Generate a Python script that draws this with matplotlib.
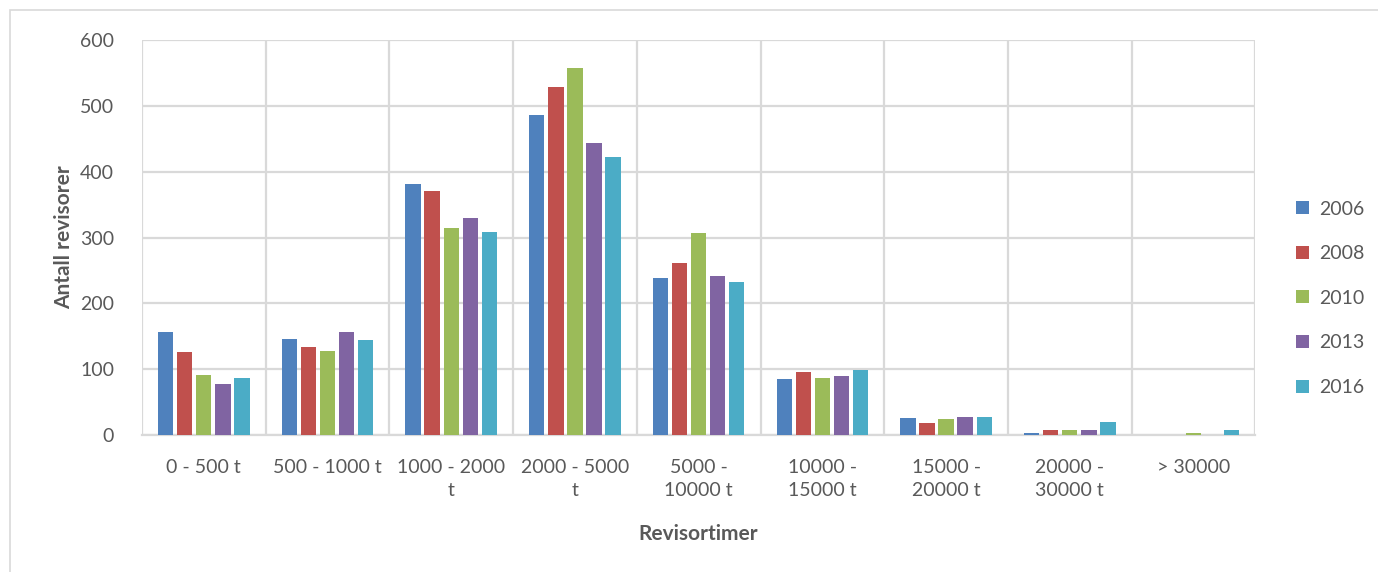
import matplotlib.pyplot as plt
from matplotlib.patches import Rectangle
import numpy as np

categories = ['0 - 500 t', '500 - 1000 t', '1000 - 2000\nt', '2000 - 5000\nt',
              '5000 -\n10000 t', '10000 -\n15000 t', '15000 -\n20000 t',
              '20000 -\n30000 t', '> 30000']
years = ['2006', '2008', '2010', '2013', '2016']
v2006 = [157, 146, 381, 486, 239, 85, 26, 3, 0]
v2008 = [126, 134, 371, 529, 262, 95, 18, 7, 0]
v2010 = [91, 128, 315, 557, 307, 87, 24, 7, 3]
v2013 = [78, 157, 330, 444, 241, 89, 28, 7, 0]
v2016 = [86, 144, 309, 422, 232, 98, 28, 20, 7]
colors = ['#4F81BD', '#C0504D', '#9BBB59', '#8064A2', '#4BACC6']

series = [v2006, v2008, v2010, v2013, v2016]
txt = '#595959'
grid_col = '#D9D9D9'

plt.rcParams['font.family'] = ['Lato', 'DejaVu Sans']

fig = plt.figure(figsize=(13.78, 5.72), dpi=100)
ax = fig.add_axes([0.103, 0.2395, 0.808, 0.6905])

x = np.arange(len(categories))
step = 0.154
width = 0.124
for i, (vals, yr, col) in enumerate(zip(series, years, colors)):
    ax.bar(x + (i - 2) * step, vals, width=width, color=col,
           edgecolor='none', label=yr, zorder=3)

ax.set_xlim(-0.5, len(categories) - 0.5)
ax.set_ylim(0, 600)
ax.set_yticks(range(0, 601, 100))
ax.set_xticks(x)
ax.set_xticklabels(categories, fontsize=14, color=txt, linespacing=1.45)
ax.set_xticks(np.arange(-0.5, len(categories), 1), minor=True)
ax.tick_params(axis='both', which='both', length=0)
ax.tick_params(axis='x', pad=17)
ax.tick_params(axis='y', labelsize=14, labelcolor=txt, pad=20)

# Gridlines on values and between categories
ax.grid(axis='y', which='major', color=grid_col, linewidth=1.6, zorder=0)
ax.grid(axis='x', which='minor', color=grid_col, linewidth=1.6, zorder=0)
for side in ['top', 'right', 'left']:
    ax.spines[side].set_visible(False)
ax.spines['bottom'].set_color(grid_col)
ax.spines['bottom'].set_linewidth(1.6)

ax.set_ylabel('Antall revisorer', fontsize=15, fontweight='bold', color=txt,
              labelpad=4)
ax.set_xlabel('Revisortimer', fontsize=15, fontweight='bold', color=txt,
              labelpad=18)

leg = ax.legend(loc='upper left', bbox_to_anchor=(0.928, 0.68),
                bbox_transform=fig.transFigure, frameon=False, fontsize=14,
                handlelength=0.65, handleheight=0.65, handletextpad=0.55,
                labelspacing=1.42)
for t in leg.get_texts():
    t.set_color(txt)

# Outer chart border
fig.patches.append(Rectangle((10 / 1378, -0.05), 1.1, 1.05 - 10 / 572,
                             transform=fig.transFigure, fill=False,
                             edgecolor=grid_col, linewidth=1.2))

fig.savefig('out.png', dpi=100)
